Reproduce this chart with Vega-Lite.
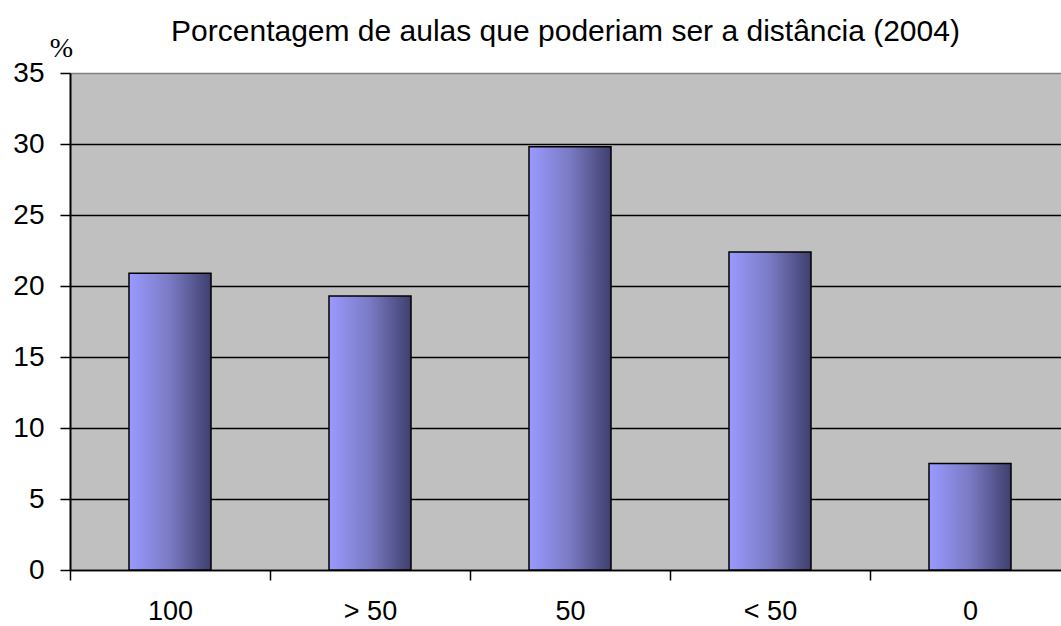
{
  "$schema": "https://vega.github.io/schema/vega-lite/v6.json",
  "autosize": {"type": "none"},
  "padding": {"left": 70, "top": 73, "right": 0, "bottom": 56},
  "width": 991,
  "height": 497,
  "background": "white",
  "title": {
    "text": "Porcentagem de aulas que poderiam ser a distância (2004)",
    "font": "Liberation Sans",
    "fontSize": 30,
    "fontWeight": "normal",
    "color": "black",
    "anchor": "middle",
    "baseline": "alphabetic",
    "frame": "group",
    "offset": -37
  },
  "data": {
    "values": [
      {"categoria": "100", "pct": 20.9},
      {"categoria": "> 50", "pct": 19.3},
      {"categoria": "50", "pct": 29.8},
      {"categoria": "< 50", "pct": 22.4},
      {"categoria": "0", "pct": 7.5}
    ]
  },
  "mark": {
    "type": "bar",
    "stroke": "black",
    "strokeWidth": 1.5,
    "color": {
      "gradient": "linear",
      "x1": 0, "y1": 0, "x2": 1, "y2": 0,
      "stops": [
        {"offset": 0, "color": "#9a9aff"},
        {"offset": 0.5, "color": "#7a7ac4"},
        {"offset": 1, "color": "#3f3f6e"}
      ]
    }
  },
  "encoding": {
    "x": {
      "field": "categoria",
      "type": "nominal",
      "sort": null,
      "scale": {"range": [0, 1000], "paddingInner": 0.59, "paddingOuter": 0.295},
      "axis": {
        "title": null,
        "labelAngle": 0,
        "labelFont": "Liberation Sans",
        "labelFontSize": 27,
        "labelColor": "black",
        "labelPadding": 18,
        "tickOffset": -100,
        "labelOffset": 100,
        "tickColor": "black",
        "tickSize": 10,
        "tickWidth": 1.5,
        "domainColor": "black",
        "domainWidth": 1.5,
        "grid": false
      }
    },
    "y": {
      "field": "pct",
      "type": "quantitative",
      "scale": {"domain": [0, 35], "nice": false},
      "axis": {
        "values": [0, 5, 10, 15, 20, 25, 30, 35],
        "title": "%",
        "titleFont": "Liberation Serif",
        "titleFontSize": 28,
        "titleFontWeight": "normal",
        "titleColor": "black",
        "titleAngle": 0,
        "titleAlign": "center",
        "titleBaseline": "alphabetic",
        "titleX": -9,
        "titleY": -17,
        "labelFont": "Liberation Sans",
        "labelFontSize": 28,
        "labelColor": "black",
        "labelPadding": 16,
        "tickColor": "black",
        "tickSize": 10,
        "tickWidth": 1.5,
        "domainColor": "black",
        "domainWidth": 2,
        "grid": true,
        "gridColor": {"condition": {"test": "datum.value == 35", "value": "#808080"}, "value": "black"},
        "gridWidth": 1.5,
        "gridOpacity": 1
      }
    }
  },
  "config": {
    "view": {"fill": "#c0c0c0", "stroke": null}
  }
}
